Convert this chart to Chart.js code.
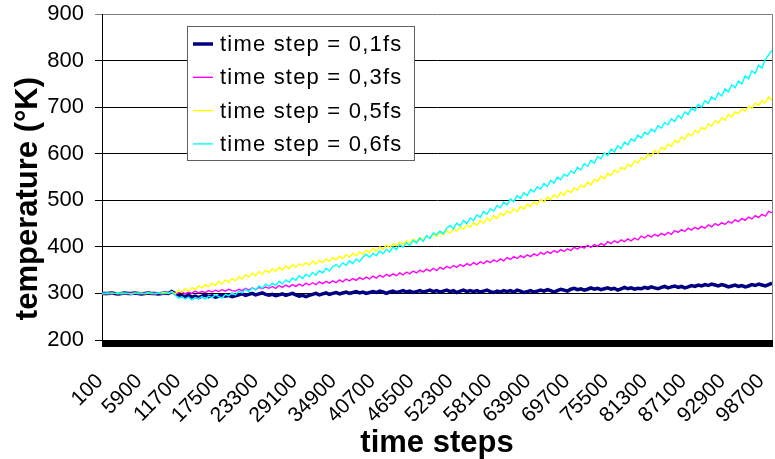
<!DOCTYPE html>
<html lang="en">
<head>
  <meta charset="UTF-8" />
  <title>Temperature vs time steps</title>
  <script src="https://cdn.jsdelivr.net/npm/chart.js"></script>
  <style>
    html, body { margin: 0; padding: 0; background: #fff; }
    #wrap { width: 775px; height: 459px; }
  </style>
</head>
<body>
  <div id="wrap"><canvas id="tempChart" width="775" height="459"></canvas></div>

  <script>
    // category axis: every 100 time steps, a label shown every 58th
    const tickLabels = [];
    for (let s = 100; s <= 100000; s += 100) tickLabels.push(String(s));
    const labelEvery = 58;

    const sampleSteps = [100];
    for (let s = 500; s <= 100000; s += 500) sampleSteps.push(s);

    const seriesNames = ['time step = 0,1fs', 'time step = 0,3fs', 'time step = 0,5fs', 'time step = 0,6fs'];

    // one row = 5000 time steps
    const temp01 = [300,
      300, 300, 301, 300, 299, 300, 301, 300, 300, 301,
      300, 299, 300, 301, 300, 300, 299, 300, 301, 300,
      304, 300, 297, 295, 293, 296, 292, 294, 291, 294,
      296, 293, 295, 292, 294, 297, 294, 296, 293, 295,
      297, 299, 296, 298, 300, 297, 299, 301, 298, 296,
      298, 295, 297, 299, 296, 298, 300, 297, 294, 296,
      293, 296, 298, 300, 297, 299, 301, 298, 300, 302,
      299, 301, 303, 300, 302, 304, 301, 303, 300, 302,
      304, 302, 305, 303, 300, 303, 305, 302, 304, 306,
      303, 305, 302, 304, 306, 303, 305, 307, 304, 306,
      303, 305, 307, 304, 306, 302, 305, 307, 304, 306,
      304, 306, 303, 305, 307, 304, 302, 305, 303, 306,
      304, 306, 303, 307, 305, 302, 304, 306, 303, 305,
      307, 305, 308, 306, 303, 306, 309, 307, 305, 309,
      311, 308, 310, 307, 309, 312, 309, 311, 308, 310,
      312, 309, 311, 307, 310, 313, 310, 312, 309, 311,
      310, 313, 311, 314, 312, 310, 313, 315, 312, 314,
      316, 313, 315, 312, 314, 317, 315, 318, 316, 319,
      317, 320, 318, 316, 319, 317, 314, 316, 318, 315,
      317, 314, 316, 319, 317, 320, 318, 316, 319, 322
    ];
    const temp03 = [300,
      300, 301, 299, 300, 301, 300, 299, 300, 301, 300,
      299, 300, 301, 300, 299, 301, 300, 300, 299, 301,
      302, 298, 301, 304, 299, 303, 300, 305, 301, 304,
      302, 306, 303, 307, 304, 308, 305, 309, 306, 305,
      309, 306, 311, 307, 312, 308, 313, 310, 314, 311,
      315, 311, 317, 313, 318, 314, 319, 315, 320, 316,
      322, 318, 323, 319, 325, 321, 326, 322, 327, 323,
      329, 325, 331, 327, 332, 328, 334, 330, 335, 331,
      337, 333, 339, 335, 341, 337, 342, 338, 344, 340,
      346, 342, 348, 344, 350, 346, 352, 348, 354, 349,
      356, 352, 358, 354, 360, 356, 362, 358, 364, 360,
      366, 362, 368, 364, 370, 366, 372, 368, 374, 370,
      377, 373, 379, 375, 381, 377, 383, 379, 385, 381,
      388, 384, 390, 386, 392, 388, 394, 390, 396, 392,
      399, 395, 401, 397, 403, 399, 405, 401, 407, 403,
      411, 407, 413, 409, 415, 411, 417, 413, 419, 415,
      423, 419, 425, 421, 427, 423, 429, 425, 431, 427,
      435, 431, 437, 433, 440, 436, 442, 438, 444, 440,
      447, 443, 450, 446, 452, 448, 455, 451, 458, 454,
      461, 457, 464, 460, 467, 463, 470, 466, 476, 473
    ];
    const temp05 = [300,
      300, 299, 301, 300, 299, 301, 300, 300, 299, 301,
      300, 301, 299, 300, 301, 299, 300, 301, 302, 300,
      304, 299, 307, 302, 310, 305, 313, 308, 316, 312,
      319, 314, 322, 317, 326, 320, 329, 324, 332, 327,
      336, 331, 340, 335, 344, 338, 347, 341, 350, 345,
      353, 347, 356, 350, 359, 353, 362, 356, 364, 359,
      366, 361, 369, 363, 371, 366, 374, 369, 377, 372,
      380, 375, 383, 378, 386, 381, 389, 384, 393, 388,
      397, 391, 400, 395, 404, 398, 407, 402, 410, 405,
      413, 408, 417, 411, 420, 415, 424, 419, 427, 422,
      431, 426, 435, 429, 439, 434, 443, 438, 447, 442,
      452, 446, 457, 451, 462, 456, 467, 461, 472, 467,
      477, 472, 482, 476, 487, 481, 492, 486, 497, 491,
      502, 496, 507, 501, 512, 506, 517, 511, 522, 516,
      527, 522, 533, 528, 539, 533, 545, 540, 552, 546,
      558, 553, 565, 559, 571, 566, 578, 572, 585, 580,
      592, 587, 600, 594, 607, 601, 614, 609, 621, 616,
      629, 624, 636, 631, 643, 638, 650, 645, 657, 652,
      664, 659, 671, 666, 677, 672, 684, 679, 690, 686,
      696, 691, 702, 697, 709, 704, 714, 709, 722, 715
    ];
    const temp06 = [300,
      300, 301, 299, 300, 302, 299, 301, 300, 298, 300,
      301, 299, 300, 302, 299, 300, 301, 299, 300, 301,
      303, 296, 290, 293, 288, 292, 286, 291, 289, 293,
      288, 294, 291, 297, 293, 290, 298, 295, 301, 297,
      305, 301, 309, 304, 312, 307, 316, 311, 320, 315,
      322, 317, 326, 320, 329, 324, 333, 328, 338, 332,
      341, 336, 345, 339, 349, 344, 354, 348, 357, 362,
      356, 366, 360, 370, 364, 374, 368, 378, 384, 377,
      386, 381, 391, 385, 395, 389, 400, 394, 405, 399,
      409, 403, 414, 408, 419, 412, 424, 418, 430, 426,
      434, 428, 440, 446, 439, 451, 445, 457, 450, 462,
      456, 469, 463, 476, 470, 482, 477, 489, 484, 496,
      490, 503, 497, 510, 504, 516, 510, 523, 518, 529,
      524, 536, 530, 543, 537, 550, 544, 556, 552, 563,
      558, 571, 565, 579, 573, 586, 580, 594, 589, 602,
      596, 610, 604, 617, 611, 625, 619, 632, 627, 640,
      634, 646, 641, 653, 647, 660, 655, 667, 662, 675,
      669, 682, 676, 690, 684, 698, 692, 706, 700, 714,
      708, 722, 716, 731, 724, 739, 733, 748, 742, 756,
      750, 767, 761, 778, 772, 790, 784, 803, 812, 822
    ];

    const yTicks = [200, 300, 400, 500, 600, 700, 800, 900];

    const colors = ['#000080', '#FF00FF', '#FFFF00', '#00FFFF'];
    const widths = [3.5, 1.4, 1.4, 1.4];
    const FONT = "'Liberation Sans', Arial, sans-serif";

    function toPoints(values) {
      return values.map((v, i) => ({ x: String(sampleSteps[i]), y: v }));
    }

    // right edge of the plot frame
    const framePlugin = {
      id: 'frame',
      afterDatasetsDraw(chart) {
        const a = chart.chartArea, c = chart.ctx;
        c.save();
        c.strokeStyle = '#808080';
        c.lineWidth = 1;
        c.beginPath();
        c.moveTo(Math.round(a.right) + 0.5, a.top);
        c.lineTo(Math.round(a.right) + 0.5, a.bottom);
        c.stroke();
        c.restore();
      }
    };

    // boxed legend sitting inside the plot
    const boxLegend = {
      id: 'boxLegend',
      afterDraw(chart) {
        const c = chart.ctx;
        const x = 187, y = 26, w = 227, h = 134;
        c.save();
        c.fillStyle = '#fff';
        c.fillRect(x, y, w, h);
        c.strokeStyle = '#606060';
        c.lineWidth = 1;
        c.strokeRect(x + 0.5, y + 0.5, w, h);
        c.font = '22px ' + FONT;
        c.textBaseline = 'middle';
        c.fillStyle = '#000';
        if ('letterSpacing' in c) c.letterSpacing = '1.2px';
        chart.data.datasets.forEach((ds, i) => {
          const ry = 44 + i * 33.3;
          c.strokeStyle = ds.borderColor;
          c.lineWidth = ds.borderWidth;
          c.beginPath();
          c.moveTo(193, ry);
          c.lineTo(213, ry);
          c.stroke();
          c.fillText(ds.label, 220, ry + 1);
        });
        c.restore();
      }
    };

    const ctx = document.getElementById('tempChart').getContext('2d');
    new Chart(ctx, {
      type: 'line',
      data: {
        labels: tickLabels,
        datasets: [temp01, temp03, temp05, temp06].map((vals, i) => ({
          label: seriesNames[i],
          data: toPoints(vals),
          borderColor: colors[i],
          backgroundColor: colors[i],
          borderWidth: widths[i],
          pointRadius: 0,
          tension: 0,
          fill: false,
          order: 4 - i
        }))
      },
      options: {
        responsive: false,
        animation: false,
        devicePixelRatio: 1,
        layout: { padding: { top: 14, right: 3, left: 0, bottom: 0 } },
        plugins: {
          legend: { display: false },
          tooltip: { enabled: false }
        },
        scales: {
          x: {
            type: 'category',
            afterFit(scale) {
              scale.height = 119;
              scale.paddingLeft = 0;
              scale.paddingRight = 0;
            },
            grid: {
              drawOnChartArea: false,
              drawTicks: true,
              tickLength: 7,
              color: '#000',
              lineWidth: 1
            },
            border: { color: '#000', width: 1 },
            ticks: {
              autoSkip: false,
              maxRotation: 45,
              minRotation: 45,
              padding: 22,
              labelOffset: -2,
              color: '#000',
              font: { family: FONT, size: 21 },
              callback: function (value, index) {
                return index % labelEvery === 0 ? this.getLabelForValue(value) : '';
              }
            },
            title: {
              display: true,
              text: 'time steps',
              color: '#000',
              font: { family: FONT, size: 31, weight: 'bold' },
              padding: { top: 0, bottom: -3 }
            }
          },
          y: {
            min: 200,
            max: 900,
            afterFit(scale) {
              scale.width = 102;
              scale.paddingTop = 0;
              scale.paddingBottom = 0;
            },
            afterBuildTicks(scale) { scale.ticks = yTicks.map(v => ({ value: v })); },
            grid: {
              color: (c) => (c.tick && c.tick.value === 900 ? '#808080' : '#000'),
              lineWidth: 1,
              tickLength: 7
            },
            border: { color: '#000', width: 1 },
            ticks: {
              padding: 11,
              color: '#000',
              font: { family: FONT, size: 22 }
            },
            title: {
              display: true,
              text: 'temperature (°K)     ',
              color: '#000',
              font: { family: FONT, size: 31, weight: 'bold' },
              padding: { top: 10, bottom: 0 }
            }
          }
        }
      },
      plugins: [framePlugin, boxLegend]
    });
  </script>
</body>
</html>
